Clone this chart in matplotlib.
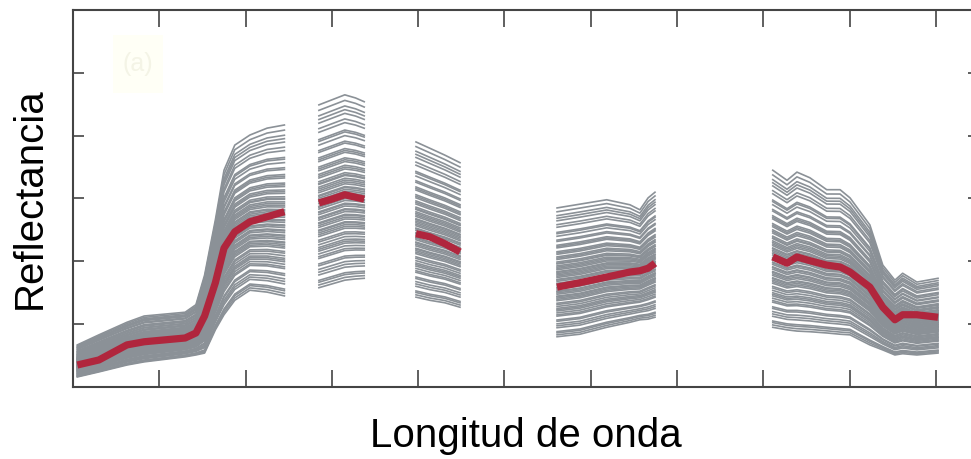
import numpy as np
import matplotlib
matplotlib.use("Agg")
import matplotlib.pyplot as plt
from matplotlib.patches import Rectangle

plt.rcParams['font.family'] = ['Liberation Sans', 'DejaVu Sans']

# spectral windows (nm) kept after removing noisy bands
wl_1 = [410, 460, 525, 565, 660, 685, 705, 730, 750, 775, 810, 850, 890]
mean_1 = [0.035, 0.043, 0.067, 0.072, 0.078, 0.086, 0.113, 0.166, 0.221, 0.247, 0.263, 0.271, 0.279]
high_1 = [0.067, 0.083, 0.103, 0.113, 0.119, 0.131, 0.178, 0.266, 0.345, 0.385, 0.401, 0.412, 0.417]
low_1 = [0.016, 0.024, 0.035, 0.040, 0.048, 0.051, 0.054, 0.091, 0.115, 0.138, 0.154, 0.151, 0.145]

wl_2 = [970, 1000, 1030, 1055, 1075]
mean_2 = [0.293, 0.299, 0.306, 0.302, 0.299]
high_2 = [0.449, 0.457, 0.465, 0.460, 0.454]
low_2 = [0.158, 0.164, 0.170, 0.172, 0.173]

wl_3 = [1195, 1227, 1262, 1297]
mean_3 = [0.244, 0.239, 0.228, 0.215]
high_3 = [0.390, 0.380, 0.369, 0.357]
low_3 = [0.143, 0.138, 0.134, 0.127]

wl_4 = [1522, 1575, 1637, 1691, 1714, 1733, 1749]
mean_4 = [0.159, 0.166, 0.175, 0.183, 0.185, 0.189, 0.197]
high_4 = [0.285, 0.291, 0.298, 0.290, 0.282, 0.301, 0.310]
low_4 = [0.080, 0.084, 0.095, 0.103, 0.107, 0.108, 0.111]

wl_5 = [2022, 2055, 2078, 2108, 2147, 2178, 2201, 2247, 2277, 2305, 2323, 2356, 2405]
mean_5 = [0.207, 0.197, 0.207, 0.201, 0.194, 0.191, 0.183, 0.159, 0.127, 0.107, 0.115, 0.115, 0.111]
high_5 = [0.345, 0.329, 0.342, 0.333, 0.314, 0.314, 0.301, 0.258, 0.194, 0.170, 0.181, 0.167, 0.173]
low_5 = [0.095, 0.091, 0.089, 0.088, 0.086, 0.084, 0.083, 0.067, 0.059, 0.051, 0.053, 0.051, 0.054]

# position of each sample between the lowest and highest spectrum
sample_pos = [0.00, 0.015, 0.03, 0.04, 0.07, 0.085, 0.10, 0.12, 0.13, 0.16,
              0.17, 0.185, 0.20, 0.21, 0.22, 0.235, 0.25, 0.26, 0.28, 0.29,
              0.30, 0.31, 0.315, 0.33, 0.34, 0.35, 0.355, 0.37, 0.38, 0.385,
              0.40, 0.41, 0.415, 0.43, 0.44, 0.445, 0.46, 0.47, 0.48, 0.49,
              0.50, 0.505, 0.52, 0.53, 0.54, 0.55, 0.565, 0.57, 0.58, 0.60,
              0.61, 0.62, 0.64, 0.65, 0.66, 0.69, 0.70, 0.71, 0.74, 0.75,
              0.78, 0.80, 0.81, 0.85, 0.87, 0.90, 0.92, 0.94, 0.97, 1.00]

segments = [(wl_1, mean_1, low_1, high_1),
            (wl_2, mean_2, low_2, high_2),
            (wl_3, mean_3, low_3, high_3),
            (wl_4, mean_4, low_4, high_4),
            (wl_5, mean_5, low_5, high_5)]

gray = '#8b9197'
red = '#b0263d'

fig = plt.figure(figsize=(9.71, 4.59), dpi=100)
ax = fig.add_axes([73 / 971, 72 / 459, 906 / 971, 377 / 459])

for wl, mean, low, high in segments:
    wl = np.array(wl)
    low = np.array(low)
    high = np.array(high)
    for f in sample_pos:
        ax.plot(wl, low + f * (high - low), color=gray, lw=1.2)

for wl, mean, low, high in segments:
    ax.plot(wl, mean, color=red, lw=5.2, solid_capstyle='butt', zorder=5)

ax.set_xlim(400, 2500)
ax.set_ylim(0, 0.6)
ax.set_xticks(np.arange(600, 2500, 200))
ax.set_yticks(np.arange(0.1, 0.6, 0.1))
ax.tick_params(direction='in', length=12, width=1.2, color='#444444',
               top=True, right=True, labelbottom=False, labelleft=False)
ax.tick_params(axis='y', length=8)
for s in ax.spines.values():
    s.set_color('#444444')
    s.set_linewidth(1.5)

# panel tag, barely visible
fig.patches.append(Rectangle((113 / 971, 1 - 93 / 459), 50 / 971, 58 / 459,
                             transform=fig.transFigure, facecolor='#fffff6',
                             edgecolor='none', zorder=1))
fig.text(138 / 971, 1 - 64 / 459, '(a)', fontsize=18, color='#f4f4e6',
         ha='center', va='center', zorder=2)

fig.text(30 / 971, 1 - 198 / 459, 'Reflectancia', fontsize=29, rotation=90,
         ha='center', va='center')
fig.text(526 / 971, 1 - 436 / 459, 'Longitud de onda', fontsize=29,
         ha='center', va='center')

fig.savefig('out.png', dpi=100)
